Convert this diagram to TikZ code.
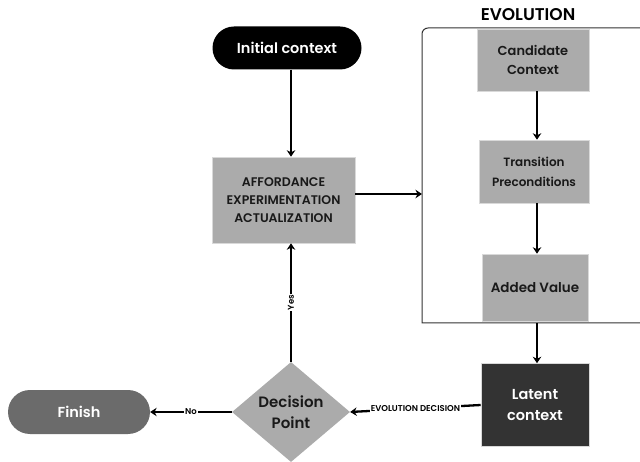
\documentclass[tikz,border=0pt]{standalone}
\usepackage{fontspec}
\setmainfont{Poppins}[BoldFont={Poppins SemiBold}]
\usetikzlibrary{shapes.geometric,shapes.misc,arrows.meta}
\definecolor{boxgray}{HTML}{ABABAB}
\definecolor{finishgray}{HTML}{6B6B6B}
\definecolor{latentdark}{HTML}{333333}
\tikzset{
  box/.style={draw=white!85!black, line width=0.6pt, fill=boxgray, align=center, inner sep=0pt, text=black!90},
  pill/.style={rounded rectangle, draw=none, align=center, inner sep=0pt, text=white},
  arr/.style={line width=2.3pt, -{Stealth[length=6.5pt,width=8.5pt]}},
  elabel/.style={fill=white, inner sep=1pt, font=\bfseries\fontsize{8.5}{9}\selectfont}
}
\begin{document}
\begin{tikzpicture}[x=1pt,y=-1pt]
\useasboundingbox (0,0) rectangle (640,462);
% evolution frame
\draw[line width=1pt, black!80] (641,28) -- (428,28) arc[start angle=90, end angle=180, radius=6pt] -- (422,323) -- (641,323);
\node[font=\bfseries\fontsize{17}{19}\selectfont] (evotitle) at (528,15) {EVOLUTION};
\coordinate (evoL) at (422,194);
\coordinate (evoB) at (537,323);

\node[pill, fill=black, minimum width=149pt, minimum height=43pt, font=\bfseries\fontsize{14.5}{16}\selectfont] (init) at (287,48) {Initial context};
\node[box, minimum width=143pt, minimum height=86pt, font=\bfseries\fontsize{12.5}{18}\selectfont] (aff) at (283.5,200) {AFFORDANCE\\EXPERIMENTATION\\ACTUALIZATION};

\node[box, minimum width=112pt, minimum height=62pt, font=\bfseries\fontsize{13}{19}\selectfont] (cand) at (533,60) {Candidate\\Context};
\node[box, minimum width=110pt, minimum height=63pt, font=\bfseries\fontsize{12}{20}\selectfont] (trans) at (534,171.5) {Transition\\Preconditions};
\node[box, minimum width=106pt, minimum height=67pt, font=\bfseries\fontsize{13.5}{16}\selectfont] (added) at (535,287.5) {Added Value};

\node[box, fill=latentdark, text=white, minimum width=108pt, minimum height=83pt, font=\bfseries\fontsize{14.5}{21}\selectfont] (latent) at (535,405) {Latent\\context};
\node[diamond, fill=boxgray, draw=none, minimum width=118pt, minimum height=100pt, inner sep=0pt, align=center, text=black!90, font=\bfseries\fontsize{15}{21}\selectfont] (dec) at (291,412) {Decision\\Point};
\node[pill, fill=finishgray, minimum width=142pt, minimum height=44pt, font=\bfseries\fontsize{14.5}{16}\selectfont] (finish) at (79,412) {Finish};

\draw[arr] (init.south -| 291,0) -- (aff.north -| 291,0);
\draw[arr] (aff.east |- 0,194) -- (evoL);
\draw[arr] (cand.south -| 537,0) -- (trans.north -| 537,0);
\draw[arr] (trans.south -| 537,0) -- (added.north -| 537,0);
\draw[arr] (evoB) -- (latent.north -| 537,0);
\draw[arr] (latent.west) -- node[elabel] {EVOLUTION DECISION} (dec.east);
\draw[arr] (dec.west) -- node[elabel] {No} (finish.east);
\draw[arr] (dec.north) -- node[elabel, rotate=90] {Yes} (aff.south -| 291,0);
\end{tikzpicture}
\end{document}
